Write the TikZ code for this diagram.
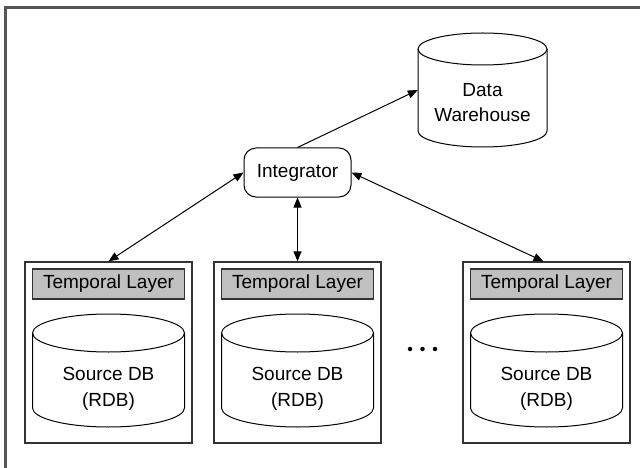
\documentclass[tikz,border=0pt]{standalone}
\usepackage{fontspec}
\setmainfont{Liberation Sans}
\usetikzlibrary{arrows.meta}
\definecolor{framegray}{HTML}{555555}
\definecolor{boxgray}{HTML}{333333}
\definecolor{layergray}{HTML}{C0C0C0}
\newcommand{\drawcyl}[5]{% cx, rx, ytop, ybot, ry
  \draw[cylline] (#1-#2,#3) -- (#1-#2,#4) arc[start angle=180,end angle=360,x radius=#2pt,y radius=#5pt] -- (#1+#2,#3);
  \draw[cylline] (#1,#3) ellipse[x radius=#2pt,y radius=#5pt];
}
\begin{document}
\begin{tikzpicture}[x=1pt,y=-1pt,
  txt/.style={font=\fontsize{19}{25.5}\selectfont, align=center},
  cylline/.style={line width=1pt, draw=black},
  outerbox/.style={draw=boxgray, line width=1.3pt, minimum width=167pt, minimum height=181pt, inner sep=0pt},
  layerbox/.style={draw=boxgray, line width=1.2pt, fill=layergray, minimum width=152pt, minimum height=30pt, inner sep=0pt, txt},
  intbox/.style={draw=black, line width=1pt, rounded corners=12pt, minimum width=107pt, minimum height=49pt, inner sep=0pt, txt},
  arr/.style={line width=1pt, -{Triangle[length=10pt,width=8pt]}},
  darr/.style={line width=1pt, {Triangle[length=10pt,width=8pt]}-{Triangle[length=10pt,width=8pt]}},
  dot/.style={circle, fill=black, inner sep=0pt, minimum size=4.5pt}
]
\useasboundingbox (0,0) rectangle (640,468);
\fill[white] (0,0) rectangle (640,468);
\draw[framegray, line width=2.2pt] (5.5,468) -- (5.5,7.5) -- (640,7.5);

% Data warehouse
\drawcyl{482.5}{64.5}{49}{131}{16}
\node[txt, minimum width=129pt, minimum height=114pt, inner sep=0pt] (dw) at (482.5,90) {};
\node[txt] (dwlabel) at (482.5,102.5) {Data\\Warehouse};

% Integrator
\node[intbox] (int) at (297.5,172.5) {Integrator};

% Source boxes
\foreach \i/\cx in {1/108.5, 2/297.5, 3/546.5} {
  \node[outerbox] (b\i) at (\cx,352.5) {};
  \node[layerbox] (t\i) at (\cx,284) {Temporal Layer};
  \drawcyl{\cx}{76}{333}{408}{19}
  \node[txt] (s\i) at (\cx,389) {Source DB\\(RDB)};
}

% dots
\node[dot] (d1) at (410,349) {};
\node[dot] (d2) at (422.5,349) {};
\node[dot] (d3) at (435,349) {};

% connectors
\draw[arr] (int.north) -- (dw.west);
\draw[darr] (int.west) -- (b1.north);
\draw[darr] (int.south) -- (b2.north);
\draw[darr] (int.east) -- ([xshift=-3pt]b3.north);
\end{tikzpicture}
\end{document}
